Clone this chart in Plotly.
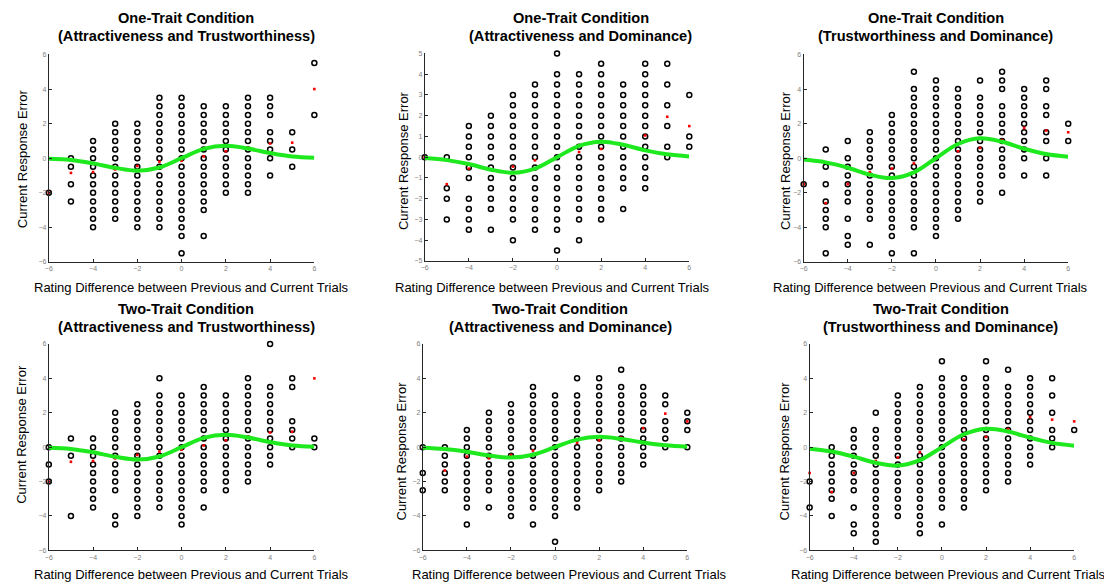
import plotly.graph_objects as go

X_VALUES = [-6, -5, -4, -3, -2, -1, 0, 1, 2, 3, 4, 5, 6]

TITLE_LINE1 = [
    "One-Trait Condition", "One-Trait Condition", "One-Trait Condition",
    "Two-Trait Condition", "Two-Trait Condition", "Two-Trait Condition",
]
TITLE_LINE2 = [
    "(Attractiveness and Trustworthiness)",
    "(Attractiveness and Dominance)",
    "(Trustworthiness and Dominance)",
    "(Attractiveness and Trustworthiness)",
    "(Attractiveness and Dominance)",
    "(Trustworthiness and Dominance)",
]
X_TITLE = "Rating Difference between Previous and Current Trials"
Y_TITLE = "Current Response Error"

# individual response errors per rating-difference column (x = -6 .. 6)
p1_cols = [
    [-2],
    [0, -0.5, -1.5, -2.5],
    [1, 0.5, 0, -0.5, -1, -1.5, -2, -2.5, -3, -3.5, -4],
    [2, 1.5, 1, 0.5, 0, -0.5, -1, -1.5, -2, -2.5, -3, -3.5],
    [2, 1.5, 1, 0.5, 0, -0.5, -1, -1.5, -2, -2.5, -3, -3.5, -4],
    [3.5, 3, 2.5, 2, 1.5, 1, 0.5, 0, -0.5, -1, -1.5, -2, -2.5, -3, -3.5, -4],
    [3.5, 3, 2.5, 2, 1.5, 1, 0.5, 0, -0.5, -1, -1.5, -2, -2.5, -3, -3.5, -4, -4.5, -5.5],
    [3, 2.5, 2, 1.5, 1, 0.5, 0, -0.5, -1, -1.5, -2, -2.5, -3, -4.5],
    [3, 2.5, 2, 1.5, 1, 0.5, 0, -0.5, -1, -1.5, -2],
    [3.5, 3, 2.5, 2, 1.5, 1, 0.5, 0, -0.5, -1, -1.5, -2],
    [3.5, 3, 2.5, 1.5, 1, 0.5, 0, -1],
    [1.5, 0.5, -0.5],
    [5.5, 2.5],
]
p2_cols = [
    [0],
    [0, -1.5, -2, -3],
    [1.5, 1, 0.5, 0, -0.5, -1, -2, -2.5, -3, -3.5],
    [2, 1.5, 1, 0.5, 0, -0.5, -1, -1.5, -2, -2.5, -3.5],
    [3, 2.5, 2, 1.5, 1, 0.5, 0, -0.5, -1, -1.5, -2, -2.5, -3, -4],
    [3.5, 3, 2.5, 2, 1.5, 1, 0.5, 0, -0.5, -1, -1.5, -2, -2.5, -3, -3.5],
    [5, 4, 3.5, 3, 2.5, 2, 1.5, 1, 0.5, 0, -0.5, -1, -1.5, -2, -2.5, -3, -3.5, -4.5],
    [4, 3.5, 3, 2.5, 2, 1.5, 1, 0.5, 0, -0.5, -1, -1.5, -2, -2.5, -3, -4],
    [4.5, 4, 3.5, 3, 2.5, 2, 1.5, 1, 0.5, 0, -0.5, -1, -1.5, -2, -2.5, -3],
    [3.5, 3, 2.5, 2, 1.5, 1, 0.5, 0, -0.5, -1, -1.5, -2.5],
    [4.5, 4, 3.5, 3, 2.5, 2, 1.5, 1, 0.5, 0, -0.5, -1, -1.5],
    [4.5, 3.5, 2.5, 1.5, 0.5, 0],
    [3, 1, 0.5],
]
p3_cols = [
    [-1.5],
    [0.5, -0.5, -1.5, -2.5, -3, -3.5, -4, -5.5],
    [1, 0, -0.5, -1, -1.5, -2, -2.5, -3.5, -4.5, -5],
    [1.5, 1, 0.5, 0, -0.5, -1, -1.5, -2, -2.5, -3, -3.5, -5],
    [2.5, 2, 1.5, 1, 0.5, 0, -0.5, -1, -1.5, -2, -2.5, -3, -3.5, -4, -4.5, -5.5],
    [5, 4, 3.5, 3, 2.5, 2, 1.5, 1, 0.5, 0, -0.5, -1, -1.5, -2, -2.5, -3, -3.5, -4, -5.5],
    [4.5, 4, 3.5, 3, 2.5, 2, 1.5, 1, 0.5, 0, -0.5, -1, -1.5, -2, -2.5, -3, -3.5, -4, -4.5],
    [4, 3.5, 3, 2.5, 2, 1.5, 1, 0.5, 0, -0.5, -1, -1.5, -2, -2.5, -3, -3.5],
    [4.5, 3.5, 3, 2.5, 2, 1.5, 1, 0.5, 0, -0.5, -1, -1.5, -2, -2.5],
    [5, 4.5, 4, 3, 2.5, 2, 1.5, 1, 0.5, 0, -0.5, -1, -2],
    [4, 3.5, 3, 2.5, 2, 1.5, 1, 0.5, 0, -1],
    [4.5, 4, 3, 2.5, 1.5, 1, 0, -1],
    [2, 1],
]
p4_cols = [
    [0, -1, -2],
    [0.5, -0.5, -4],
    [0.5, 0, -0.5, -1, -1.5, -2, -2.5, -3, -3.5],
    [2, 1.5, 1, 0.5, 0, -0.5, -1, -1.5, -2, -2.5, -4, -4.5],
    [2.5, 2, 1.5, 1, 0.5, 0, -0.5, -1, -1.5, -2, -2.5, -3, -3.5, -4],
    [4, 3, 2.5, 2, 1.5, 1, 0.5, 0, -0.5, -1, -1.5, -2, -2.5, -3, -3.5],
    [3, 2.5, 2, 1.5, 1, 0.5, 0, -0.5, -1, -1.5, -2, -2.5, -3, -3.5, -4, -4.5],
    [3.5, 3, 2.5, 2, 1.5, 1, 0.5, 0, -0.5, -1, -1.5, -2, -2.5, -3.5],
    [3, 2.5, 2, 1.5, 1, 0.5, 0, -0.5, -1, -1.5, -2, -2.5],
    [4, 3.5, 3, 2.5, 2, 1.5, 1, 0.5, 0, -0.5, -1, -1.5, -2],
    [6, 3.5, 3, 2.5, 2, 1.5, 1, 0.5, 0, -0.5, -1],
    [4, 3.5, 1.5, 1, 0.5, 0],
    [0.5, 0],
]
p5_cols = [
    [0, -1.5, -2.5],
    [0, -0.5, -1, -1.5, -2, -2.5],
    [1, 0.5, 0, -0.5, -1, -1.5, -2, -2.5, -3, -3.5, -4.5],
    [2, 1.5, 1, 0.5, 0, -0.5, -1, -1.5, -2, -2.5, -3.5],
    [2.5, 2, 1.5, 1, 0.5, 0, -0.5, -1, -1.5, -2, -2.5, -3, -3.5, -4],
    [3.5, 3, 2.5, 2, 1.5, 1, 0.5, 0, -0.5, -1, -1.5, -2, -2.5, -3, -3.5, -4.5],
    [3, 2.5, 2, 1.5, 1, 0.5, 0, -0.5, -1, -1.5, -2, -2.5, -3, -3.5, -4, -5.5],
    [4, 3, 2.5, 2, 1.5, 1, 0.5, 0, -0.5, -1, -1.5, -2, -2.5, -3, -3.5],
    [4, 3.5, 3, 2.5, 2, 1.5, 1, 0.5, 0, -0.5, -1, -1.5, -2, -2.5],
    [4.5, 3.5, 3, 2.5, 2, 1.5, 1, 0.5, 0, -0.5, -1, -1.5, -2],
    [3.5, 3, 2.5, 2, 1.5, 1, 0.5, 0, -0.5, -1],
    [3, 2.5, 1.5, 1, 0.5, 0],
    [2, 1.5, 1, 0],
]
p6_cols = [
    [-2, -3.5],
    [0, -0.5, -1, -1.5, -2, -2.5, -3, -4],
    [1, 0.5, 0, -0.5, -1, -1.5, -2, -2.5, -3.5, -4.5, -5],
    [2, 1, 0.5, 0, -0.5, -1, -1.5, -2, -2.5, -3, -3.5, -4, -4.5, -5, -5.5],
    [3, 2.5, 2, 1.5, 1, 0.5, 0, -0.5, -1, -1.5, -2, -2.5, -3, -3.5, -4],
    [3.5, 3, 2.5, 2, 1.5, 1, 0.5, 0, -0.5, -1, -1.5, -2, -2.5, -3, -3.5, -4, -4.5, -5],
    [5, 4, 3.5, 3, 2.5, 2, 1.5, 1, 0.5, 0, -0.5, -1, -1.5, -2, -2.5, -3, -3.5, -4.5],
    [4, 3.5, 3, 2.5, 2, 1.5, 1, 0.5, 0, -0.5, -1, -1.5, -2, -2.5, -3, -3.5],
    [5, 4, 3.5, 3, 2.5, 2, 1.5, 1, 0.5, 0, -0.5, -1, -1.5, -2, -2.5],
    [4.5, 3.5, 3, 2.5, 2, 1.5, 1, 0.5, 0, -0.5, -1, -1.5, -2],
    [4, 3.5, 3, 2.5, 2, 1.5, 1, 0.5, 0, -0.5, -1],
    [4, 3, 2, 1, 0.5, 0],
    [1],
]

# mean response error per column (red dots)
p1_means = [-2, -0.85, -0.8, -0.65, -0.45, -0.2, -0.15, 0.1, 0.4, 0.6, 0.85, 0.9, 4]
p2_means = [0, -1.3, -0.55, -0.6, -0.45, -0.15, 0.0, 0.25, 0.4, 0.6, 1.05, 1.95, 1.5]
p3_means = [-1.5, -2.6, -1.5, -0.8, -0.6, -0.3, 0.0, 0.4, 0.6, 1.05, 1.75, 1.6, 1.5]
p4_means = [-2, -0.85, -0.8, -0.65, -0.45, -0.25, -0.15, 0.1, 0.4, 0.6, 0.85, 0.9, 4]
p5_means = [None, -1.35, -0.55, -0.65, -0.45, -0.2, 0.0, 0.25, 0.4, 0.55, 1.1, 1.95, 1.5]
p6_means = [-1.5, -2.6, -1.5, -0.8, -0.6, -0.3, 0.0, 0.45, 0.6, 1.05, 1.75, 1.6, 1.5]

# fitted curve read at each integer x (green line)
p1_fit = [-0.03, -0.1, -0.3, -0.56, -0.72, -0.54, 0, 0.54, 0.72, 0.56, 0.3, 0.1, 0.03]
p2_fit = [-0.04, -0.14, -0.33, -0.6, -0.75, -0.55, 0, 0.55, 0.75, 0.6, 0.33, 0.14, 0.04]
p3_fit = [-0.08, -0.24, -0.55, -0.95, -1.15, -0.82, 0, 0.82, 1.15, 0.95, 0.55, 0.24, 0.08]
p4_fit = [-0.03, -0.1, -0.3, -0.56, -0.72, -0.54, 0, 0.54, 0.72, 0.56, 0.3, 0.1, 0.03]
p5_fit = [-0.03, -0.11, -0.27, -0.48, -0.6, -0.44, 0, 0.44, 0.6, 0.48, 0.27, 0.11, 0.03]
p6_fit = [-0.085, -0.25, -0.55, -0.91, -1.07, -0.75, 0, 0.75, 1.07, 0.91, 0.55, 0.25, 0.085]

PANELS = [
    (p1_cols, p1_means, p1_fit),
    (p2_cols, p2_means, p2_fit),
    (p3_cols, p3_means, p3_fit),
    (p4_cols, p4_means, p4_fit),
    (p5_cols, p5_means, p5_fit),
    (p6_cols, p6_means, p6_fit),
]

# page offset (browser body margin) and figure size
OFF = 8
W, H = 1112 - OFF, 587 - OFF
# pixel boxes of the plot areas in page pixels (left, right, top, bottom)
BOXES = [
    (45, 312, 51, 261),
    (423, 689, 50, 260),
    (804, 1070, 51, 261),
    (45, 312, 344, 553),
    (421, 687, 344, 553),
    (810, 1076, 344, 553),
]
YRANGES = [(-6, 6), (-5, 5), (-6, 6), (-6, 6), (-6, 6), (-6, 6)]
# text anchor positions (page pixels)
TITLE_CX = [183, 580, 937, 183, 559, 942]
TITLE_Y1 = [14, 14, 14, 309, 309, 309]
TITLE_Y2 = [32, 32, 32, 327, 327, 327]
XT_CX = [188, 551, 932, 188, 569, 950]
XT_CY = [287, 287, 287, 577, 577, 577]
YT_CX = [18, 401, 785, 18, 400, 785]
YT_CY = [156, 158, 158, 435, 452, 452]

FONT = "Liberation Sans, Arial, Helvetica, sans-serif"
GREEN = "#1ee81e"


def fx(px):
    return (px - OFF) / W


def fy(py):
    return 1 - (py - OFF) / H


fig = go.Figure()
layout = {}
annotations = []

for i, ((cols, means, fit), box, yr) in enumerate(zip(PANELS, BOXES, YRANGES)):
    n = i + 1
    xa = "x" if n == 1 else f"x{n}"
    ya = "y" if n == 1 else f"y{n}"
    l, r, t, b = box
    xs, ys = [], []
    for xv, col in zip(X_VALUES, cols):
        for yv in col:
            xs.append(xv)
            ys.append(yv)
    fig.add_trace(go.Scatter(
        x=xs, y=ys, mode="markers", xaxis=xa, yaxis=ya, showlegend=False,
        cliponaxis=False,
        marker=dict(symbol="circle-open", size=5, color="black",
                    line=dict(width=1.5, color="black")),
    ))
    mx = [xv for xv, m in zip(X_VALUES, means) if m is not None]
    my = [m for m in means if m is not None]
    fig.add_trace(go.Scatter(
        x=mx, y=my, mode="markers", xaxis=xa, yaxis=ya, showlegend=False,
        cliponaxis=False,
        marker=dict(symbol="square", size=2.6, color="red", line=dict(width=0)),
    ))
    fig.add_trace(go.Scatter(
        x=X_VALUES, y=fit, mode="lines", xaxis=xa, yaxis=ya, showlegend=False,
        line=dict(color=GREEN, width=4, shape="spline", smoothing=1.0),
    ))

    if yr[1] == 5:
        ytv = list(range(-5, 6))
    else:
        ytv = [-6, -4, -2, 0, 2, 4, 6]
    common = dict(showgrid=False, zeroline=False, showline=True, linecolor="#262626",
                  linewidth=1, ticks="inside", ticklen=3, tickcolor="#262626",
                  tickwidth=1,
                  tickfont=dict(size=7, color="#808080", family=FONT))
    layout["xaxis" if n == 1 else f"xaxis{n}"] = dict(
        domain=[fx(l), fx(r)], range=[-6, 6], anchor=ya,
        tickvals=[-6, -4, -2, 0, 2, 4, 6], **common)
    layout["yaxis" if n == 1 else f"yaxis{n}"] = dict(
        domain=[fy(b), fy(t)], range=list(yr), anchor=xa,
        tickvals=ytv, **common)

    for txt, yy in ((TITLE_LINE1[i], TITLE_Y1[i]), (TITLE_LINE2[i], TITLE_Y2[i])):
        annotations.append(dict(
            text="<b>" + txt + "</b>", x=fx(TITLE_CX[i]), y=fy(yy),
            xref="paper", yref="paper", xanchor="center", yanchor="middle",
            showarrow=False, font=dict(size=14.6, color="black", family=FONT)))
    annotations.append(dict(
        text=X_TITLE, x=fx(XT_CX[i]), y=fy(XT_CY[i]), xref="paper", yref="paper",
        xanchor="center", yanchor="middle", showarrow=False,
        font=dict(size=13, color="black", family=FONT)))
    annotations.append(dict(
        text=Y_TITLE, x=fx(YT_CX[i]), y=fy(YT_CY[i]), xref="paper",
        yref="paper", xanchor="center", yanchor="middle", textangle=-90,
        showarrow=False, font=dict(size=13, color="black", family=FONT)))

fig.update_layout(
    width=W, height=H, margin=dict(l=0, r=0, t=0, b=0),
    paper_bgcolor="white", plot_bgcolor="white",
    annotations=annotations, **layout)

fig.write_html("out.html")
